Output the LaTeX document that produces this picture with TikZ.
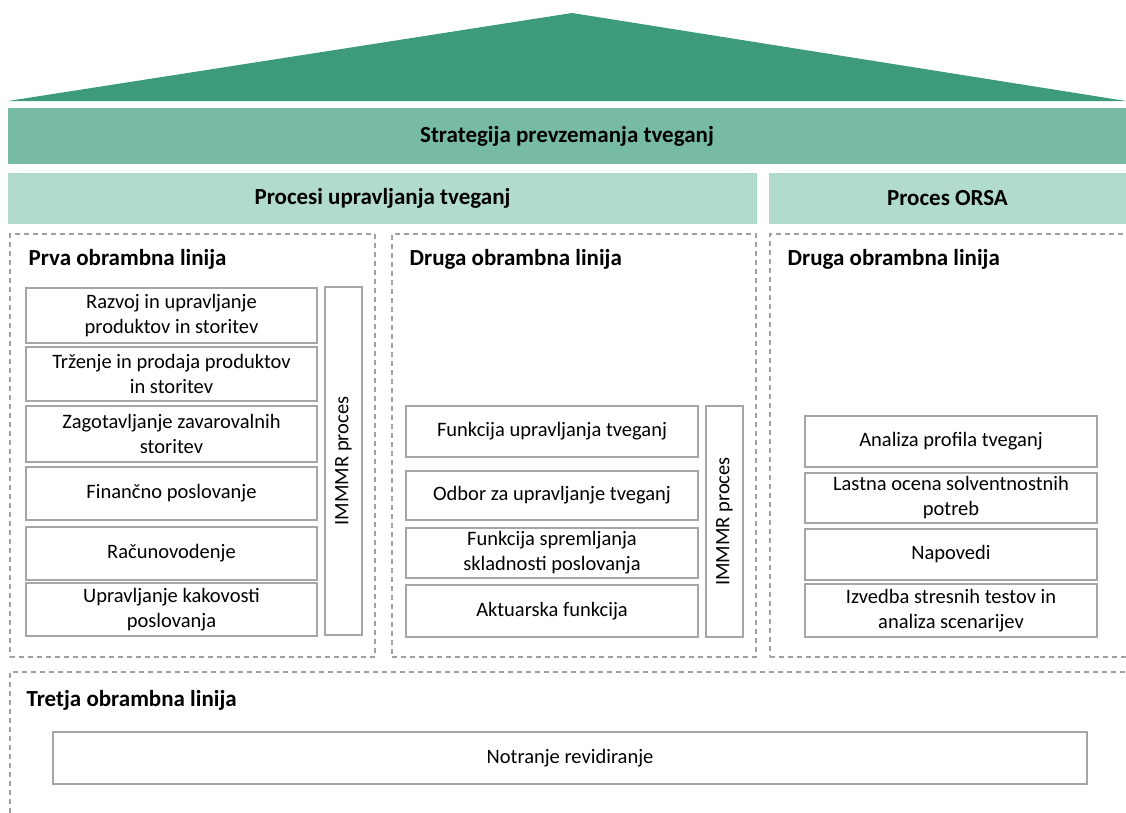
\documentclass[tikz,border=0pt]{standalone}
\usepackage{fontspec}
\setmainfont{Carlito}
\usepackage{tikz}
\usetikzlibrary{positioning,calc}

\definecolor{roofgreen}{HTML}{3D9B7C}
\definecolor{stratgreen}{HTML}{77BBA5}
\definecolor{procgreen}{HTML}{B1DBCD}
\definecolor{boxgray}{HTML}{A6A6A6}
\definecolor{dashgray}{HTML}{A0A0A0}

\tikzset{
  bar/.style={inner sep=0pt, font=\fontsize{23pt}{27pt}\selectfont\bfseries},
  linebox/.style={draw=dashgray, line width=1.2pt, dash pattern=on 5pt off 4pt, inner sep=0pt},
  heading/.style={inner sep=0pt, anchor=north west, font=\fontsize{23pt}{27pt}\selectfont\bfseries},
  itembox/.style={draw=boxgray, line width=2pt, minimum width=292pt, inner sep=0pt, align=center,
    font=\fontsize{20.5pt}{25pt}\selectfont},
  immmr/.style={draw=boxgray, line width=2pt, minimum height=37pt, inner sep=0pt, rotate=90,
    font=\fontsize{20.5pt}{25pt}\selectfont}
}

\begin{document}
\begin{tikzpicture}[x=1pt,y=-1pt]
\useasboundingbox (0,0) rectangle (1126,812);

% roof and bars
\fill[roofgreen] (8,101) -- (572,13) -- (1126,101) -- cycle;
\node[bar, fill=stratgreen, minimum width=1118pt, minimum height=56pt] (strat) at (567,136) {Strategija prevzemanja tveganj};
\node[bar, fill=procgreen, minimum width=749pt, minimum height=51pt] (proc) at (382.5,198.5) {Procesi upravljanja tveganj};
\node[bar, fill=procgreen, minimum width=357pt, minimum height=51pt] (orsabar) at (947.5,198.5) {Proces ORSA};

% dashed boxes
\node[linebox, minimum width=365pt, minimum height=423pt] (first) at (192.5,445.5) {};
\node[linebox, minimum width=364pt, minimum height=423pt] (second) at (574,445.5) {};
\node[linebox, minimum width=370pt, minimum height=423pt] (orsa) at (955,445.5) {};
\node[linebox, minimum width=1130pt, minimum height=160pt] (third) at (575,752) {};

\node[heading, below right=16pt and 19pt of first.north west] (h1) {Prva obrambna linija};
\node[heading, below right=16pt and 18pt of second.north west] (h2) {Druga obrambna linija};
\node[heading, below right=16pt and 18pt of orsa.north west] (h3) {Druga obrambna linija};
\node[heading, below right=19pt and 17pt of third.north west] (h4) {Tretja obrambna linija};

% first line
\node[itembox, minimum width=291pt, minimum height=55pt] (razvoj) at (171.5,315.5) {Razvoj in upravljanje\\produktov in storitev};
\node[itembox, minimum width=291pt, minimum height=54pt] (trzenje) at (171.5,374) {Trženje in prodaja produktov\\in storitev};
\node[itembox, minimum width=291pt, minimum height=56pt] (zagot) at (171.5,434) {Zagotavljanje zavarovalnih\\storitev};
\node[itembox, minimum width=291pt, minimum height=53pt] (financ) at (171.5,493.5) {Finančno poslovanje};
\node[itembox, minimum width=291pt, minimum height=53pt] (racun) at (171.5,553.5) {Računovodenje};
\node[itembox, minimum width=291pt, minimum height=53pt] (kakov) at (171.5,609.5) {Upravljanje kakovosti\\poslovanja};
\node[immmr, minimum width=348pt] (immmra) at (343.5,461) {IMMMR proces};

% second line
\node[itembox, minimum height=51pt] (funkut) at (552,431.5) {Funkcija upravljanja tveganj};
\node[itembox, minimum height=49pt] (odbor) at (552,495.5) {Odbor za upravljanje tveganj};
\node[itembox, minimum height=50pt] (sklad) at (552,553) {Funkcija spremljanja\\skladnosti poslovanja};
\node[itembox, minimum height=52pt] (aktuar) at (552,611) {Aktuarska funkcija};
\node[immmr, minimum width=231pt] (immmrb) at (724.5,521.5) {IMMMR proces};

% ORSA
\node[itembox, minimum height=51pt] (profil) at (951,441.5) {Analiza profila tveganj};
\node[itembox, minimum height=50pt] (lastna) at (951,498) {Lastna ocena solventnostnih\\potreb};
\node[itembox, minimum height=51pt] (napov) at (951,554.5) {Napovedi};
\node[itembox, minimum height=53pt] (stres) at (951,610.5) {Izvedba stresnih testov in\\analiza scenarijev};

% third line
\node[itembox, minimum width=1034pt, minimum height=52pt] (revid) at (570,758) {Notranje revidiranje};
\end{tikzpicture}
\end{document}
